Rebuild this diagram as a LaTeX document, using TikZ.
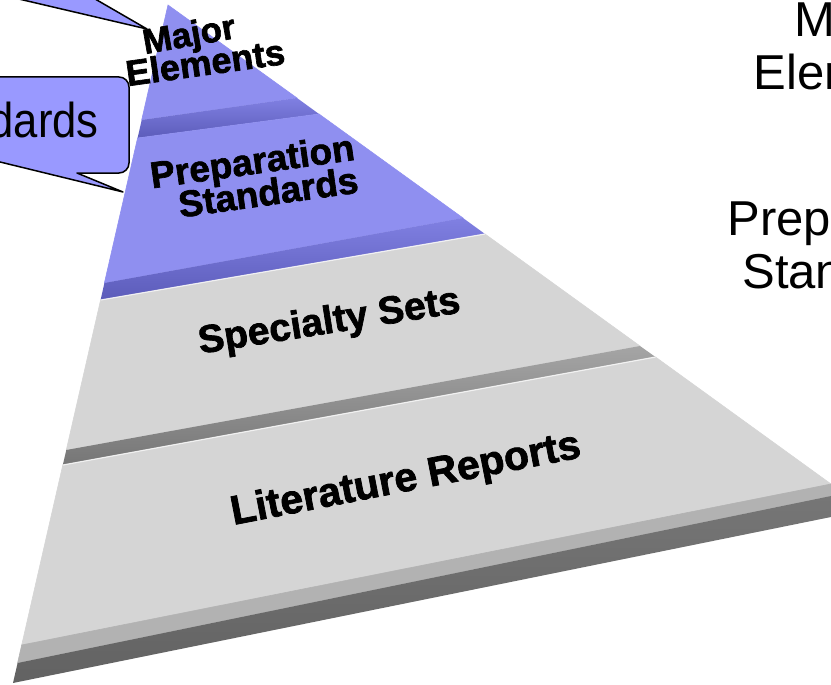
\documentclass[tikz,border=0pt]{standalone}
\usepackage{fontspec}
\setmainfont{Liberation Sans}
\newfontfamily\heavyfont[FakeBold=1.8]{Liberation Sans Bold}
\usetikzlibrary{calc}

\definecolor{blueface}{RGB}{143,143,240}
\definecolor{bluebandhi}{RGB}{128,128,226}
\definecolor{bluebandlo}{RGB}{92,92,186}
\definecolor{grayface}{RGB}{213,213,213}
\definecolor{graybandhi}{RGB}{165,165,165}
\definecolor{graybandlo}{RGB}{118,118,118}
\definecolor{graybevel}{RGB}{178,178,178}
\definecolor{graydarkhi}{RGB}{118,118,118}
\definecolor{graydarklo}{RGB}{98,98,98}
\definecolor{calloutblue}{RGB}{153,153,255}

\tikzset{
  face/.style={fill=#1, draw=#1, line width=0.6pt},
  band/.style 2 args={top color=#1, bottom color=#2, draw=none},
  highlight/.style={draw=white, line width=1.2pt, opacity=0.7},
  pyrlabel/.style={font=\heavyfont\fontsize{#1}{#1}\selectfont, anchor=base, inner sep=0pt},
  slidelabel/.style={font=\fontsize{49}{54}\selectfont, anchor=base, inner sep=0pt},
  callout/.style={fill=calloutblue, draw=black, line width=1.5pt, line join=round},
}

\begin{document}
\begin{tikzpicture}[x=1pt,y=-1pt]
    \useasboundingbox (0,0) rectangle (831,685);
    \clip (0,0) rectangle (831,685);

    % draw top layer
    \fill[face=blueface] (168,5) -- (297,98) -- (141.7,120) -- cycle;
    \shade[band={bluebandhi}{bluebandlo}] (141.7,120) -- (297,98) -- (319,114) -- (137.6,138) -- cycle;

    % draw second layer
    \fill[face=blueface] (137.6,138) -- (319,114) -- (463,218) -- (104.4,283) -- cycle;
    \shade[band={bluebandhi}{bluebandlo}] (104.4,283) -- (463,218) -- (485,234) -- (100.6,300) -- cycle;

    % draw third layer
    \fill[face=grayface] (100.6,300) -- (485,234) -- (640,346) -- (66.3,450) -- cycle;
    \shade[band={graybandhi}{graybandlo}] (66.3,450) -- (640,346) -- (655.5,357) -- (62.8,465) -- cycle;
    \draw[highlight] (100.6,300) -- (485,234);

    % draw bottom layer
    \fill[face=grayface] (62.8,465) -- (655.5,357) -- (831,484) -- (21.7,645) -- cycle;
    \fill[face=graybevel] (21.7,645) -- (831,484) -- (831,496) -- (17.6,663) -- cycle;
    \shade[band={graydarkhi}{graydarklo}] (17.6,663) -- (831,496) -- (831,517) -- (13,683) -- cycle;
    \draw[highlight] (62.8,465) -- (655.5,357);

    % draw labels on the pyramid
    \node[pyrlabel=35, rotate=10] (pyrMajor) at (191,46) {Major};
    \node[pyrlabel=36, rotate=8] (pyrElements) at (207,75) {Elements};
    \node[pyrlabel=37, rotate=8] (pyrPrep) at (254,174) {Preparation};
    \node[pyrlabel=37, rotate=8] (pyrStd) at (270,205) {Standards};
    \node[pyrlabel=39, rotate=9] (pyrSpec) at (331,333) {Specialty Sets};
    \node[pyrlabel=41, rotate=11] (pyrLit) at (408,491) {Literature Reports};

    % draw callouts
    \draw[callout] (123,192) -- (-170,120.5) -- (-170,77) -- (119,77)
        arc[start angle=270, end angle=360, radius=10] -- (129,163)
        arc[start angle=0, end angle=90, radius=10] -- (77,173) -- cycle;
    \node[slidelabel, anchor=base east] (callStd) at (99,138) {\scalebox{0.89}[1]{Standards}};
    \fill[calloutblue] (-105,-30) -- (147,29) -- (45,-30) -- cycle;
    \draw[callout, fill=none] (-105,-30) -- (147,29) -- (45,-30);

    % draw labels on the right
    \node[slidelabel] (sideMajor) at (856,37) {Major};
    \node[slidelabel] (sideElements) at (856,89) {Elements};
    \node[slidelabel] (sidePrep) at (854,235) {Preparation};
    \node[slidelabel] (sideStd) at (854,288) {Standards};

\end{tikzpicture}
\end{document}
